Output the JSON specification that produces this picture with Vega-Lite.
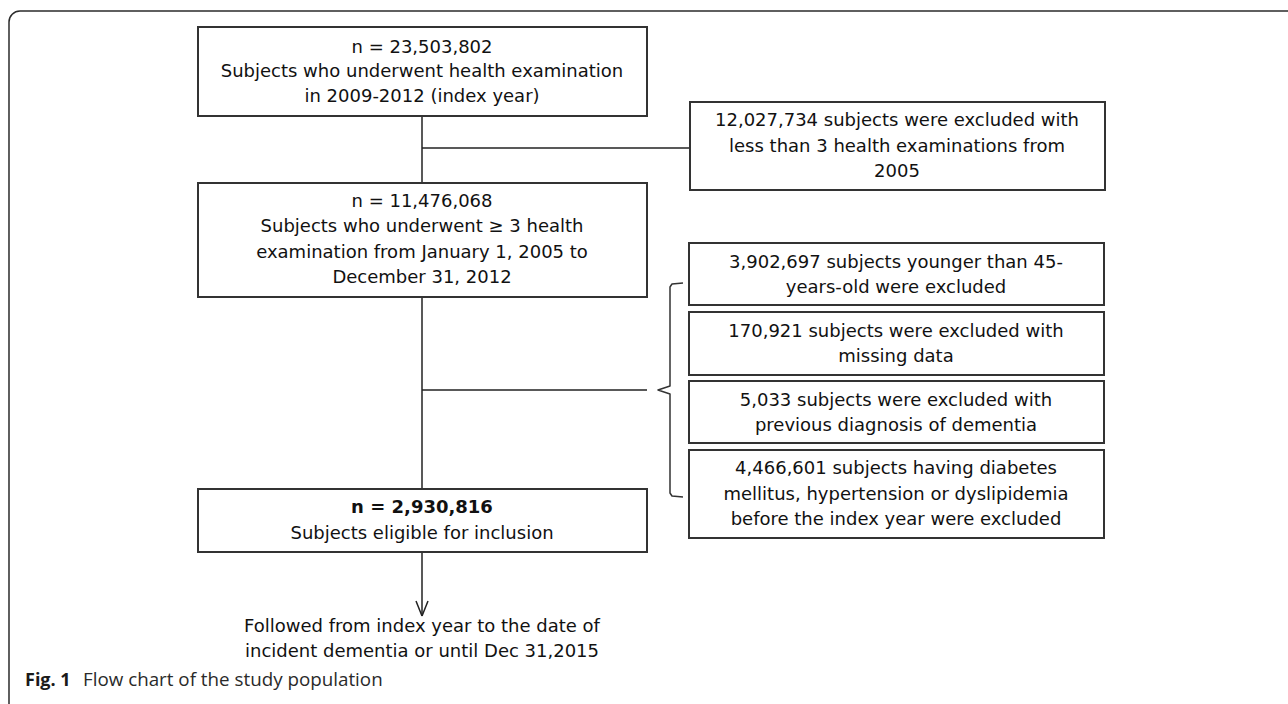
{
  "$schema": "https://vega.github.io/schema/vega-lite/v6.json",
  "width": 1288,
  "height": 704,
  "padding": 0,
  "autosize": {"type": "none"},
  "background": "white",
  "config": {"view": {"stroke": null}},
  "datasets": {
    "boxes": [
      {"id": "screened", "x": 198, "x2": 647, "y": 27, "y2": 116},
      {"id": "excl1", "x": 690, "x2": 1105, "y": 102, "y2": 190},
      {"id": "eligible3", "x": 198, "x2": 647, "y": 183, "y2": 297},
      {"id": "excl_age", "x": 689, "x2": 1104, "y": 243, "y2": 305},
      {"id": "excl_missing", "x": 689, "x2": 1104, "y": 312, "y2": 375},
      {"id": "excl_dementia", "x": 689, "x2": 1104, "y": 381, "y2": 443},
      {"id": "excl_disease", "x": 689, "x2": 1104, "y": 450, "y2": 538},
      {"id": "final", "x": 198, "x2": 647, "y": 489, "y2": 552}
    ],
    "links": [
      {"x": 422, "y": 116, "x2": 422, "y2": 183},
      {"x": 422, "y": 148, "x2": 690, "y2": 148},
      {"x": 422, "y": 297, "x2": 422, "y2": 489},
      {"x": 422, "y": 390, "x2": 647, "y2": 390},
      {"x": 422, "y": 552, "x2": 422, "y2": 616},
      {"x": 416, "y": 601, "x2": 422, "y2": 616},
      {"x": 428, "y": 601, "x2": 422, "y2": 616}
    ],
    "brace": [
      {"i": 1, "x": 683, "y": 283},
      {"i": 2, "x": 672, "y": 284},
      {"i": 3, "x": 670, "y": 287},
      {"i": 4, "x": 670, "y": 386},
      {"i": 5, "x": 658, "y": 390},
      {"i": 6, "x": 670, "y": 394},
      {"i": 7, "x": 670, "y": 493},
      {"i": 8, "x": 672, "y": 496},
      {"i": 9, "x": 683, "y": 497}
    ],
    "frame": [
      {"x": 9, "x2": 1300, "y": 11, "y2": 730}
    ],
    "lines": [
      {"box": "screened", "bold": false, "x": 422, "y": 48, "t": "n = 23,503,802"},
      {"box": "screened", "bold": false, "x": 422, "y": 72, "t": "Subjects who underwent health examination"},
      {"box": "screened", "bold": false, "x": 422, "y": 97, "t": "in 2009-2012 (index year)"},
      {"box": "excl1", "bold": false, "x": 897, "y": 121, "t": "12,027,734 subjects were excluded with"},
      {"box": "excl1", "bold": false, "x": 897, "y": 147, "t": "less than 3 health examinations from"},
      {"box": "excl1", "bold": false, "x": 897, "y": 172, "t": "2005"},
      {"box": "eligible3", "bold": false, "x": 422, "y": 202, "t": "n = 11,476,068"},
      {"box": "eligible3", "bold": false, "x": 422, "y": 227, "t": "Subjects who underwent ≥ 3 health"},
      {"box": "eligible3", "bold": false, "x": 422, "y": 253, "t": "examination from January 1, 2005 to"},
      {"box": "eligible3", "bold": false, "x": 422, "y": 278, "t": "December 31, 2012"},
      {"box": "excl_age", "bold": false, "x": 896, "y": 263, "t": "3,902,697 subjects younger than 45-"},
      {"box": "excl_age", "bold": false, "x": 896, "y": 288, "t": "years-old were excluded"},
      {"box": "excl_missing", "bold": false, "x": 896, "y": 332, "t": "170,921 subjects were excluded with"},
      {"box": "excl_missing", "bold": false, "x": 896, "y": 357, "t": "missing data"},
      {"box": "excl_dementia", "bold": false, "x": 896, "y": 401, "t": "5,033 subjects were excluded with"},
      {"box": "excl_dementia", "bold": false, "x": 896, "y": 426, "t": "previous diagnosis of dementia"},
      {"box": "excl_disease", "bold": false, "x": 896, "y": 469, "t": "4,466,601 subjects having diabetes"},
      {"box": "excl_disease", "bold": false, "x": 896, "y": 495, "t": "mellitus, hypertension or dyslipidemia"},
      {"box": "excl_disease", "bold": false, "x": 896, "y": 520, "t": "before the index year were excluded"},
      {"box": "final", "bold": true, "x": 422, "y": 508, "t": "n = 2,930,816"},
      {"box": "final", "bold": false, "x": 422, "y": 534, "t": "Subjects eligible for inclusion"},
      {"box": "followup", "bold": false, "x": 422, "y": 627, "t": "Followed from index year to the date of"},
      {"box": "followup", "bold": false, "x": 422, "y": 652, "t": "incident dementia or until Dec 31,2015"}
    ],
    "caption": [
      {"part": "label", "x": 25, "y": 686, "t": "Fig. 1"},
      {"part": "title", "x": 83, "y": 686, "t": "Flow chart of the study population"}
    ]
  },
  "layer": [
    {
      "data": {"name": "frame"},
      "mark": {"type": "rect", "fill": null, "stroke": "#2b2b2b", "strokeWidth": 1.5, "cornerRadius": 11},
      "encoding": {
        "x": {"field": "x", "type": "quantitative", "scale": {"domain": [0, 1288], "nice": false, "zero": false}, "axis": null},
        "x2": {"field": "x2"},
        "y": {"field": "y", "type": "quantitative", "scale": {"domain": [0, 704], "nice": false, "zero": false, "reverse": true}, "axis": null},
        "y2": {"field": "y2"}
      }
    },
    {
      "data": {"name": "links"},
      "mark": {"type": "rule", "stroke": "#222222", "strokeWidth": 1.5},
      "encoding": {
        "x": {"field": "x", "type": "quantitative", "axis": null},
        "x2": {"field": "x2"},
        "y": {"field": "y", "type": "quantitative", "axis": null},
        "y2": {"field": "y2"}
      }
    },
    {
      "data": {"name": "brace"},
      "mark": {"type": "line", "stroke": "#333333", "strokeWidth": 1.5, "strokeJoin": "round", "interpolate": "linear"},
      "encoding": {
        "x": {"field": "x", "type": "quantitative", "axis": null},
        "y": {"field": "y", "type": "quantitative", "axis": null},
        "order": {"field": "i", "type": "quantitative"}
      }
    },
    {
      "data": {"name": "boxes"},
      "mark": {"type": "rect", "fill": "white", "stroke": "#333333", "strokeWidth": 2},
      "encoding": {
        "x": {"field": "x", "type": "quantitative", "axis": null},
        "x2": {"field": "x2"},
        "y": {"field": "y", "type": "quantitative", "axis": null},
        "y2": {"field": "y2"}
      }
    },
    {
      "data": {"name": "lines"},
      "transform": [{"filter": "!datum.bold"}],
      "mark": {"type": "text", "font": "DejaVu Sans", "fontSize": 18, "align": "center", "baseline": "middle", "color": "#111111"},
      "encoding": {
        "x": {"field": "x", "type": "quantitative", "axis": null},
        "y": {"field": "y", "type": "quantitative", "axis": null},
        "text": {"field": "t"}
      }
    },
    {
      "data": {"name": "lines"},
      "transform": [{"filter": "datum.bold"}],
      "mark": {"type": "text", "font": "DejaVu Sans", "fontSize": 18, "fontWeight": "bold", "align": "center", "baseline": "middle", "color": "#111111"},
      "encoding": {
        "x": {"field": "x", "type": "quantitative", "axis": null},
        "y": {"field": "y", "type": "quantitative", "axis": null},
        "text": {"field": "t"}
      }
    },
    {
      "data": {"name": "caption"},
      "transform": [{"filter": "datum.part == 'label'"}],
      "mark": {"type": "text", "font": "Open Sans", "fontSize": 18, "fontWeight": "bold", "align": "left", "baseline": "alphabetic", "color": "#1a1a1a"},
      "encoding": {
        "x": {"field": "x", "type": "quantitative", "axis": null},
        "y": {"field": "y", "type": "quantitative", "axis": null},
        "text": {"field": "t"}
      }
    },
    {
      "data": {"name": "caption"},
      "transform": [{"filter": "datum.part == 'title'"}],
      "mark": {"type": "text", "font": "Open Sans", "fontSize": 18.8, "align": "left", "baseline": "alphabetic", "color": "#2a2a2a"},
      "encoding": {
        "x": {"field": "x", "type": "quantitative", "axis": null},
        "y": {"field": "y", "type": "quantitative", "axis": null},
        "text": {"field": "t"}
      }
    }
  ]
}
